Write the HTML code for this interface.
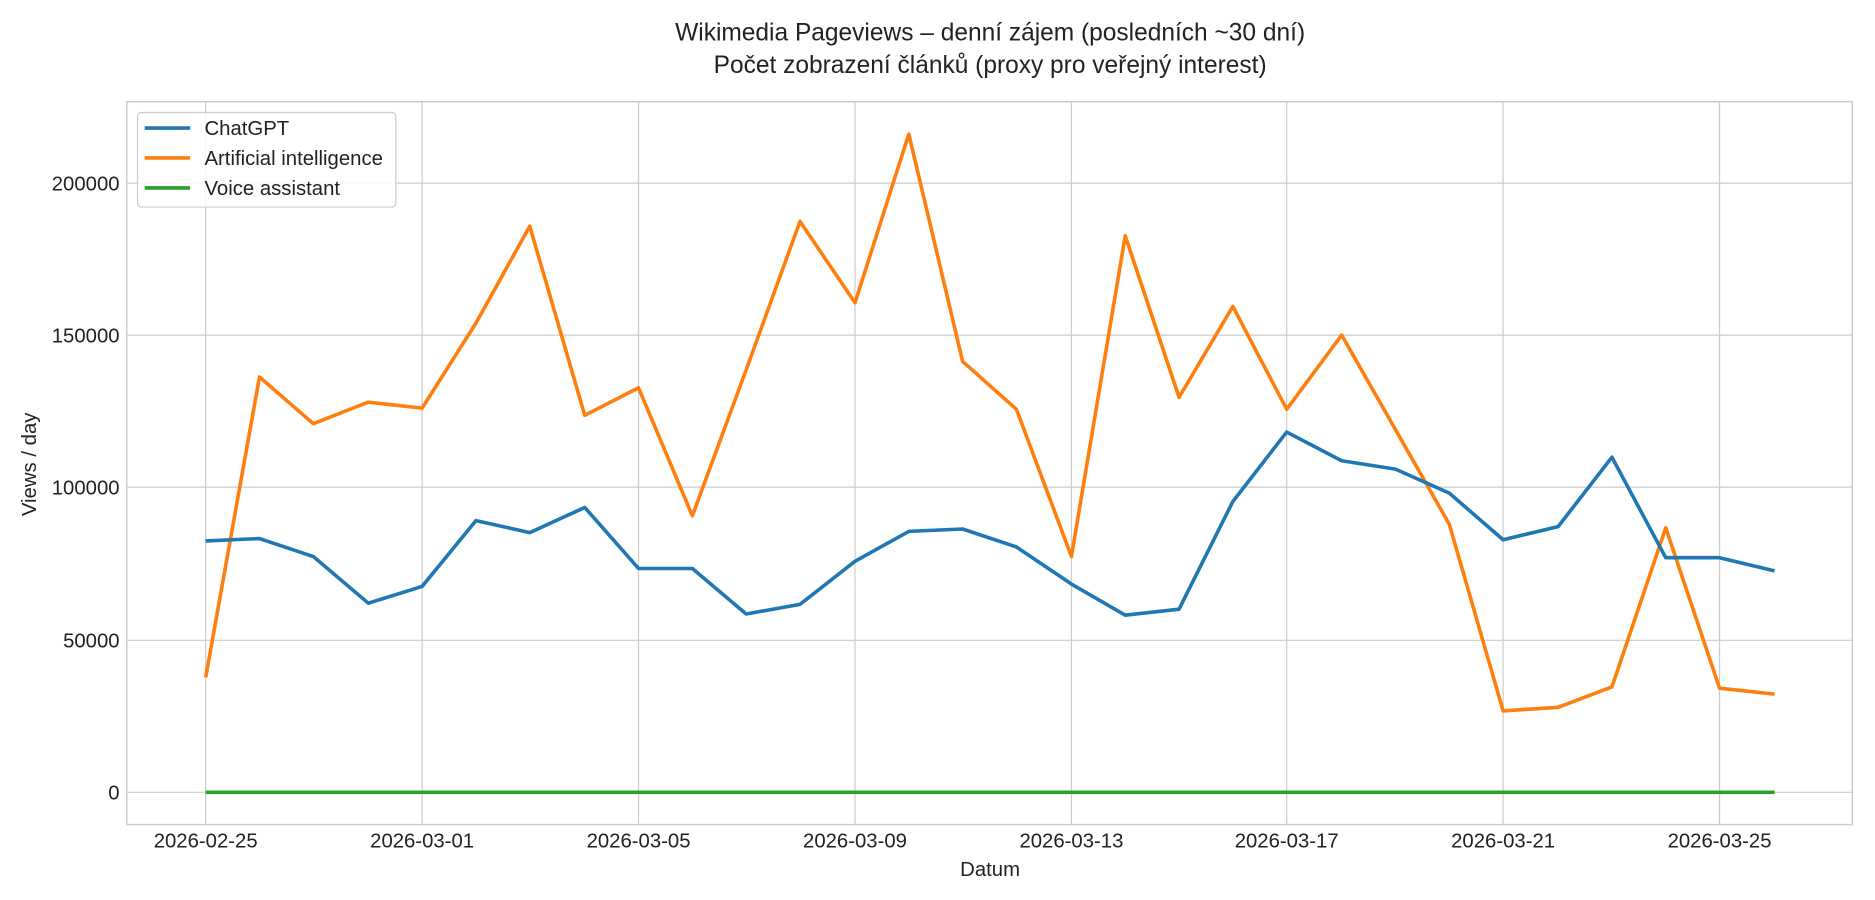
<!DOCTYPE html>
<html><head><meta charset="utf-8"><style>
html,body{margin:0;padding:0;background:#fff;}
svg{display:block;}
text{font-family:"Liberation Sans","DejaVu Sans",sans-serif;fill:#222;}
</style></head><body>
<svg width="1875" height="900" viewBox="0 0 1568 752" preserveAspectRatio="none" xmlns="http://www.w3.org/2000/svg">
<rect width="1568" height="752" fill="#fff"/>
<g stroke="#cccccc" stroke-width="1">
<line x1="172" y1="85" x2="172" y2="689"/>
<line x1="353" y1="85" x2="353" y2="689"/>
<line x1="534" y1="85" x2="534" y2="689"/>
<line x1="715" y1="85" x2="715" y2="689"/>
<line x1="896" y1="85" x2="896" y2="689"/>
<line x1="1076" y1="85" x2="1076" y2="689"/>
<line x1="1257" y1="85" x2="1257" y2="689"/>
<line x1="1438" y1="85" x2="1438" y2="689"/>
<line x1="106" y1="662" x2="1549" y2="662"/>
<line x1="106" y1="535" x2="1549" y2="535"/>
<line x1="106" y1="407" x2="1549" y2="407"/>
<line x1="106" y1="280" x2="1549" y2="280"/>
<line x1="106" y1="153" x2="1549" y2="153"/>
</g>
<rect x="106" y="85" width="1443" height="604" fill="none" stroke="#cccccc" stroke-width="1.2"/>
<g font-size="17" text-anchor="end">
<text x="100" y="668">0</text>
<text x="100" y="541">50000</text>
<text x="100" y="413">100000</text>
<text x="100" y="286">150000</text>
<text x="100" y="159">200000</text>
</g>
<g font-size="17" text-anchor="middle">
<text x="172" y="708">2026-02-25</text>
<text x="353" y="708">2026-03-01</text>
<text x="534" y="708">2026-03-05</text>
<text x="715" y="708">2026-03-09</text>
<text x="896" y="708">2026-03-13</text>
<text x="1076" y="708">2026-03-17</text>
<text x="1257" y="708">2026-03-21</text>
<text x="1438" y="708">2026-03-25</text>
<text x="828" y="732">Datum</text>
<text x="828" y="34" font-size="20.5">Wikimedia Pageviews – denní zájem (posledních ~30 dní)</text>
<text x="828" y="61" font-size="20.5">Počet zobrazení článků (proxy pro veřejný interest)</text>
</g>
<text x="0" y="0" font-size="17" text-anchor="middle" transform="translate(30,388) rotate(-90)">Views / day</text>
<polyline fill="none" stroke="#2ca02c" stroke-width="3" points="172,662 1484,662"/>
<polyline fill="none" stroke="#ff7f0e" stroke-width="3" stroke-linejoin="round" points="172,566 217,315 262,354 308,336 353,341 398,270 443,189 489,347 534,324 579,431 624,309 669,185 715,253 760,112 805,302 850,342 896,465 941,197 986,332 1031,256 1076,342 1122,280 1167,359 1212,438 1257,594 1303,591 1348,574 1393,441 1438,575 1484,580"/>
<polyline fill="none" stroke="#1f77b4" stroke-width="3" stroke-linejoin="round" points="172,452 217,450 262,465 308,504 353,490 398,435 443,445 489,424 534,475 579,475 624,513 669,505 715,469 760,444 805,442 850,457 896,488 941,514 986,509 1031,419 1076,361 1122,385 1167,392 1212,412 1257,451 1303,440 1348,382 1393,466 1438,466 1484,477"/>
<rect x="115" y="94" width="216" height="79" rx="3" fill="#fff" fill-opacity="0.85" stroke="#cccccc"/>
<line x1="121" y1="107" x2="159" y2="107" stroke="#1f77b4" stroke-width="3"/>
<line x1="121" y1="132" x2="159" y2="132" stroke="#ff7f0e" stroke-width="3"/>
<line x1="121" y1="157" x2="159" y2="157" stroke="#2ca02c" stroke-width="3"/>
<g font-size="17">
<text x="171" y="113">ChatGPT</text>
<text x="171" y="138">Artificial intelligence</text>
<text x="171" y="163">Voice assistant</text>
</g>
</svg>
</body></html>
